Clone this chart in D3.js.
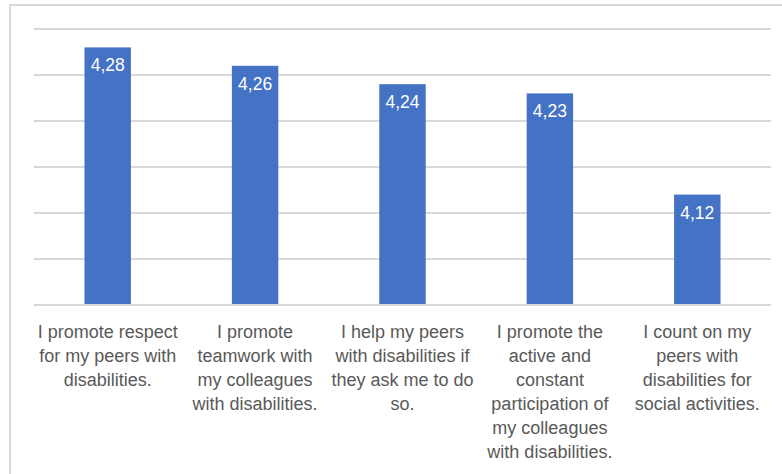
<!DOCTYPE html>
<html>
<head>
<meta charset="utf-8">
<script src="https://cdn.jsdelivr.net/npm/d3@7"></script>
<style>
  html, body { margin: 0; padding: 0; background: #fff; }
  svg { display: block; }
</style>
</head>
<body>
<svg id="chart" width="782" height="474"></svg>
<script>
// Survey item means (comma decimal labels)
const categories = [
  "I promote respect for my peers with disabilities.",
  "I promote teamwork with my colleagues with disabilities.",
  "I help my peers with disabilities if they ask me to do so.",
  "I promote the active and constant participation of my colleagues with disabilities.",
  "I count on my peers with disabilities for social activities."
];
const categoryLines = [
  ["I promote respect", "for my peers with", "disabilities."],
  ["I promote", "teamwork with", "my colleagues", "with disabilities."],
  ["I help my peers", "with disabilities if", "they ask me to do", "so."],
  ["I promote the", "active and", "constant", "participation of", "my colleagues", "with disabilities."],
  ["I count on my", "peers with", "disabilities for", "social activities."]
];
const values = [4.28, 4.26, 4.24, 4.23, 4.12];
const gridTicks = [4.00, 4.05, 4.10, 4.15, 4.20, 4.25, 4.30];

const svg = d3.select("#chart");
const W = 782, H = 474;
const plot = { left: 34, right: 771, top: 29, bottom: 305 };
const fontFamily = "'Liberation Sans', Arial, sans-serif";

svg.append("rect").attr("width", W).attr("height", H).attr("fill", "#fff");

// chart area frame
svg.append("rect")
  .attr("x", 10).attr("y", 5)
  .attr("width", 820).attr("height", 520)
  .attr("fill", "none")
  .attr("stroke", "#d9d9d9")
  .attr("stroke-width", 2);

const x = d3.scaleBand()
  .domain(categories)
  .range([plot.left, plot.right])
  .paddingInner(0.685)
  .paddingOuter(0.3425);

const y = d3.scaleLinear()
  .domain([4.0, 4.3])
  .range([plot.bottom, plot.top]);

// horizontal gridlines
svg.append("g")
  .selectAll("line")
  .data(gridTicks)
  .join("line")
  .attr("x1", plot.left).attr("x2", plot.right)
  .attr("y1", d => y(d)).attr("y2", d => y(d))
  .attr("stroke", "#d9d9d9")
  .attr("stroke-width", 2);

// bars
svg.append("g")
  .selectAll("rect")
  .data(values)
  .join("rect")
  .attr("x", (d, i) => x(categories[i]))
  .attr("y", d => y(d))
  .attr("width", x.bandwidth())
  .attr("height", d => y(4.0) - y(d) - 1)
  .attr("fill", "#4472c4");

// value labels inside bar tops
const fmt = v => v.toFixed(2).replace(".", ",");
svg.append("g")
  .selectAll("text")
  .data(values)
  .join("text")
  .attr("x", (d, i) => x(categories[i]) + x.bandwidth() / 2)
  .attr("y", d => y(d) + 24)
  .attr("text-anchor", "middle")
  .attr("font-family", fontFamily)
  .attr("font-size", 17.5)
  .attr("fill", "#ffffff")
  .text(d => fmt(d));

// category labels, wrapped
const labels = svg.append("g")
  .selectAll("text")
  .data(categories)
  .join("text")
  .attr("x", d => x(d) + x.bandwidth() / 2)
  .attr("y", 338)
  .attr("text-anchor", "middle")
  .attr("font-family", fontFamily)
  .attr("font-size", 18)
  .attr("fill", "#595959");

labels.each(function (d, i) {
  d3.select(this).selectAll("tspan")
    .data(categoryLines[i])
    .join("tspan")
    .attr("x", x(d) + x.bandwidth() / 2)
    .attr("dy", (t, j) => j === 0 ? 0 : 24)
    .text(t => t);
});
</script>
</body>
</html>
